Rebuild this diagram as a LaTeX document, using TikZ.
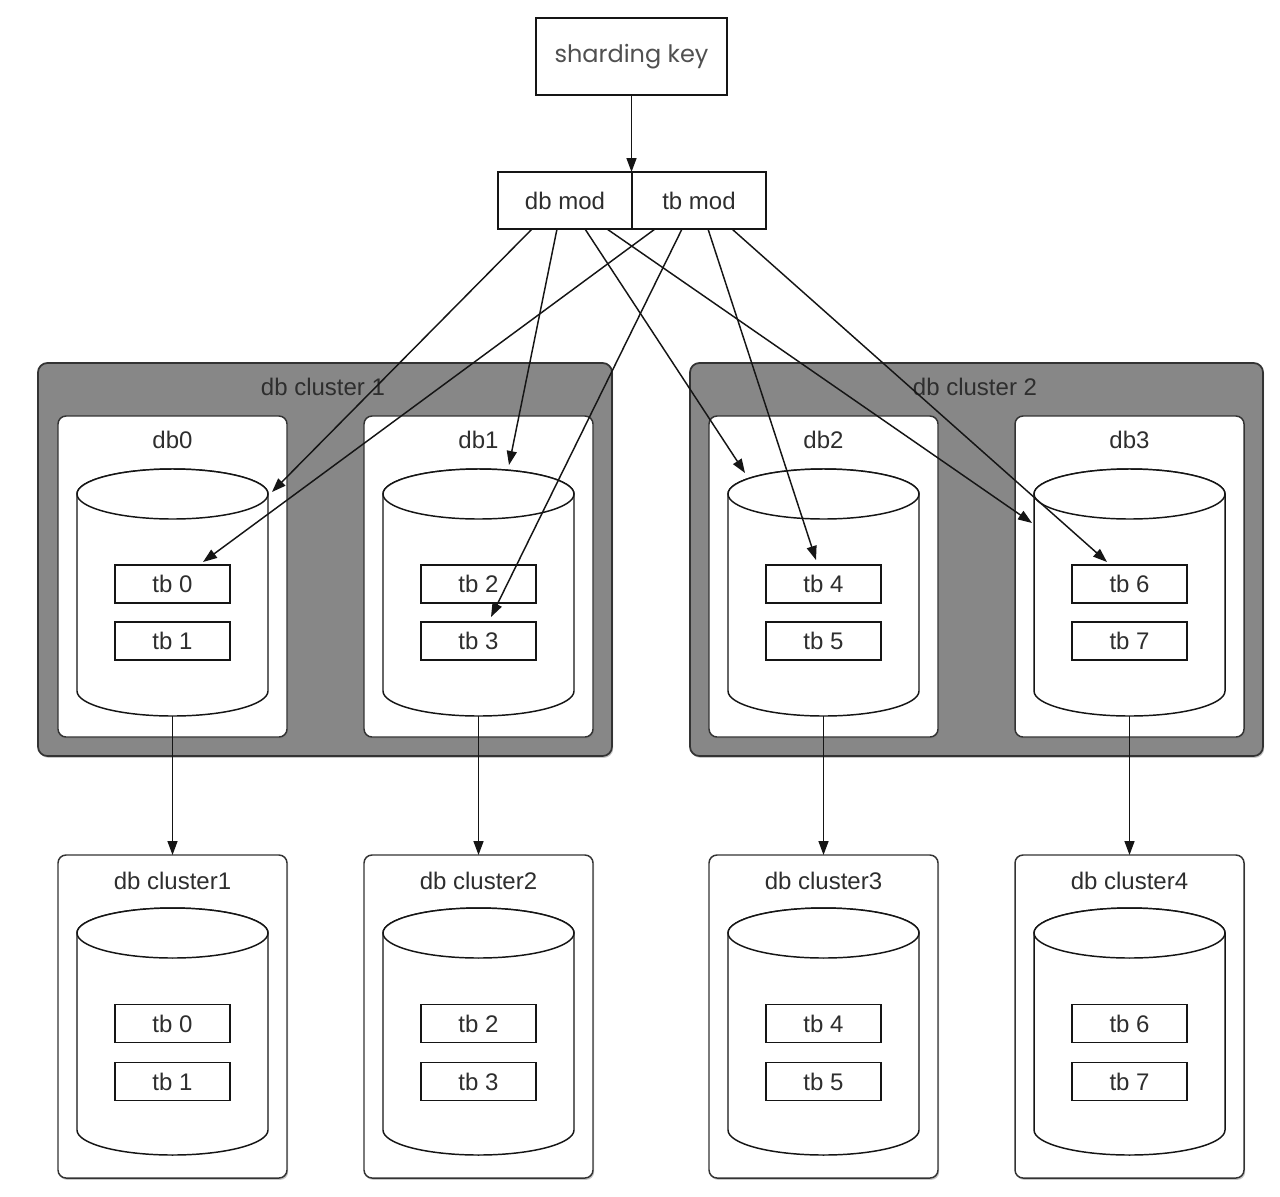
\documentclass[tikz,border=0pt]{standalone}
\usepackage{fontspec}
\setmainfont{Liberation Sans}
\newfontfamily\keyfont{Poppins}
\usetikzlibrary{arrows.meta,calc,shadows}
\definecolor{txt}{HTML}{2E2E2E}
\definecolor{keytxt}{HTML}{505050}
\definecolor{clfill}{HTML}{878787}
\definecolor{clline}{HTML}{333333}
\definecolor{ln}{HTML}{151515}
\newcommand\drawcyl[1]{%
  \draw[cylsty] ($(#1.north west)+(0,25)$) -- ($(#1.south west)+(0,-25)$)
    arc[start angle=180,end angle=0,x radius=95.5,y radius=25]
    -- ($(#1.north east)+(0,25)$)
    arc[start angle=0,end angle=-180,x radius=95.5,y radius=25] -- cycle;
  \draw[cylsty] ($(#1.north)+(0,25)$) ellipse[x radius=95.5,y radius=25];
}
\begin{document}
\begin{tikzpicture}[x=0.75pt,y=-0.75pt,
  sz/.style 2 args={minimum width=#1*0.75pt, minimum height=#2*0.75pt, inner sep=0pt, outer sep=0pt},
  lbl/.style={font=\fontsize{18}{20}\selectfont, text=txt},
  shad/.style={drop shadow={shadow xshift=0.9pt, shadow yshift=-1.4pt, opacity=0.45}},
  cluster/.style={draw=clline, fill=clfill, line width=1.3pt, rounded corners=7pt, shad},
  dbbox/.style={draw=clline, fill=white, line width=1.1pt, rounded corners=6pt, shad},
  tbbox/.style={draw=ln, fill=white, line width=1.1pt, sz={115}{38}, lbl},
  modbox/.style={draw=ln, fill=white, line width=1.1pt, sz={134}{57}, lbl},
  cylnode/.style={sz={191}{247}},
  cylsty/.style={draw=ln, fill=white, line width=1.1pt},
  arr/.style={draw=ln, line width=1.1pt, -{Triangle[length=10.5pt,width=7.5pt]}},
]
\useasboundingbox (0,0) rectangle (1280,1196);

% top
\node[draw=ln, line width=1.1pt, fill=white, sz={191}{77}, font=\keyfont\fontsize{18}{20}\selectfont, text=keytxt] (key) at (631.5,56.5) {sharding key};
\node[modbox] (dbmod) at (565,200.5) {db mod};
\node[modbox] (tbmod) at (699,200.5) {tb mod};

% clusters
\node[cluster, sz={574}{393}] (cl1) at (325,559.5) {};
\node[cluster, sz={573}{393}] (cl2) at (976.5,559.5) {};
\node[lbl] (cl1t) at (323,387) {db cluster 1};
\node[lbl] (cl2t) at (975,387) {db cluster 2};

% db boxes in clusters
\foreach \i/\cx in {0/172.5,1/478.5,2/823.5,3/1129.5}{
  \node[dbbox, sz={229}{321}] (db\i) at (\cx,576.5) {};
  \node[lbl] (db\i t) at (\cx,440) {db\i};
  \node[cylnode] (cy\i) at (\cx,592.5) {};
  \drawcyl{cy\i}
}
\foreach \i/\cx in {1/172.5,2/478.5,3/823.5,4/1129.5}{
  \node[dbbox, sz={229}{323}] (bc\i) at (\cx,1016.5) {};
  \node[lbl] (bc\i t) at (\cx,881) {db cluster\i};
  \node[cylnode] (cb\i) at (\cx,1031.5) {};
  \drawcyl{cb\i}
}
% tables
\foreach \a/\b/\cx in {0/1/172.5,2/3/478.5,4/5/823.5,6/7/1129.5}{
  \node[tbbox] (tb\a) at (\cx,584) {tb \a};
  \node[tbbox] (tb\b) at (\cx,641) {tb \b};
  \node[tbbox] (tc\a) at (\cx,1023.5) {tb \a};
  \node[tbbox] (tc\b) at (\cx,1081.5) {tb \b};
}

% arrows
\draw[arr] (key.south) -- (key.south |- dbmod.north);

\coordinate (s1) at (532,229);
\coordinate (s2) at (557,229);
\coordinate (s3) at (585,229);
\coordinate (s4) at (607,229);
\coordinate (s5) at (655,229);
\coordinate (s6) at (682,229);
\coordinate (s7) at (708,229);
\coordinate (s8) at (732,229);
\coordinate (e1) at (272,492);
\coordinate (e2) at (509,465);
\coordinate (e3) at (745,473);
\coordinate (e4) at (1032,523);
\coordinate (e5) at (203,562);
\coordinate (e6) at (491,617);
\coordinate (e7) at (816,560);
\coordinate (e8) at (1107,562);
\foreach \k in {1,...,8}{\draw[arr] (s\k) -- (e\k);}

\foreach \i/\j in {0/1,1/2,2/3,3/4}{
  \draw[arr] (cy\i.south) -- (bc\j.north);
}
\end{tikzpicture}
\end{document}
